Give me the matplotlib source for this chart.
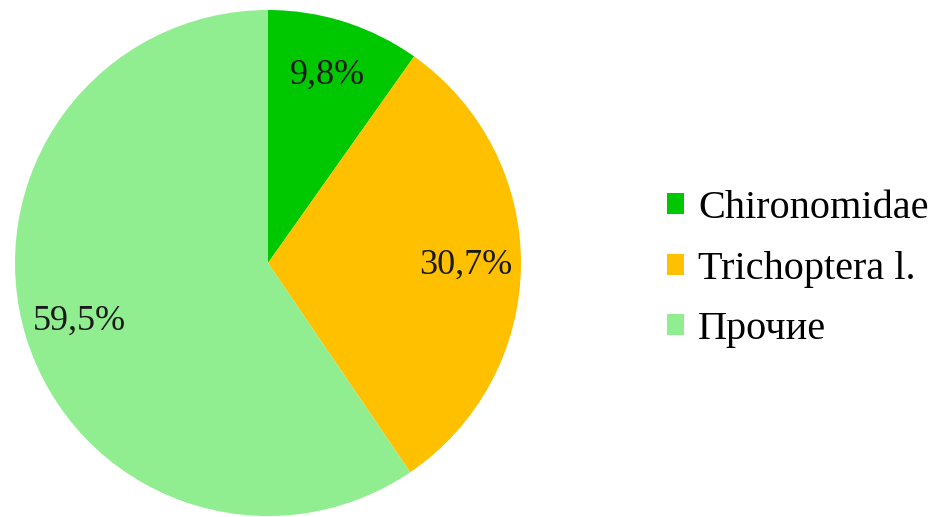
import matplotlib
matplotlib.use('Agg')
import matplotlib.pyplot as plt

labels = ['Chironomidae', 'Trichoptera l.', 'Прочие']
shares = [9.8, 30.7, 59.5]
colors = ['#00C800', '#FFC000', '#90EE90']

plt.rcParams['font.family'] = ['Liberation Serif', 'DejaVu Serif']

fig = plt.figure(figsize=(9.37, 5.17), dpi=100)
ax = fig.add_axes([15/937, 1/517, 506/937, 506/517])

wedges, texts, autotexts = ax.pie(
    shares, colors=colors, startangle=90, counterclock=False,
    autopct=lambda p: ('%.1f%%' % p).replace('.', ','),
    pctdistance=0.78, wedgeprops=dict(linewidth=0))
for t in autotexts:
    t.set_fontsize(26)
    t.set_color('#1a1a1a')
ax.set_xlim(-1, 1)
ax.set_ylim(-1, 1)

fig.legend(wedges, labels, loc='center left', bbox_to_anchor=(667/937, 248/517),
           frameon=False, fontsize=29, handlelength=0.42, handleheight=0.42,
           handletextpad=0.35, labelspacing=0.58, borderpad=0, borderaxespad=0)

fig.savefig('out.png', dpi=100)
